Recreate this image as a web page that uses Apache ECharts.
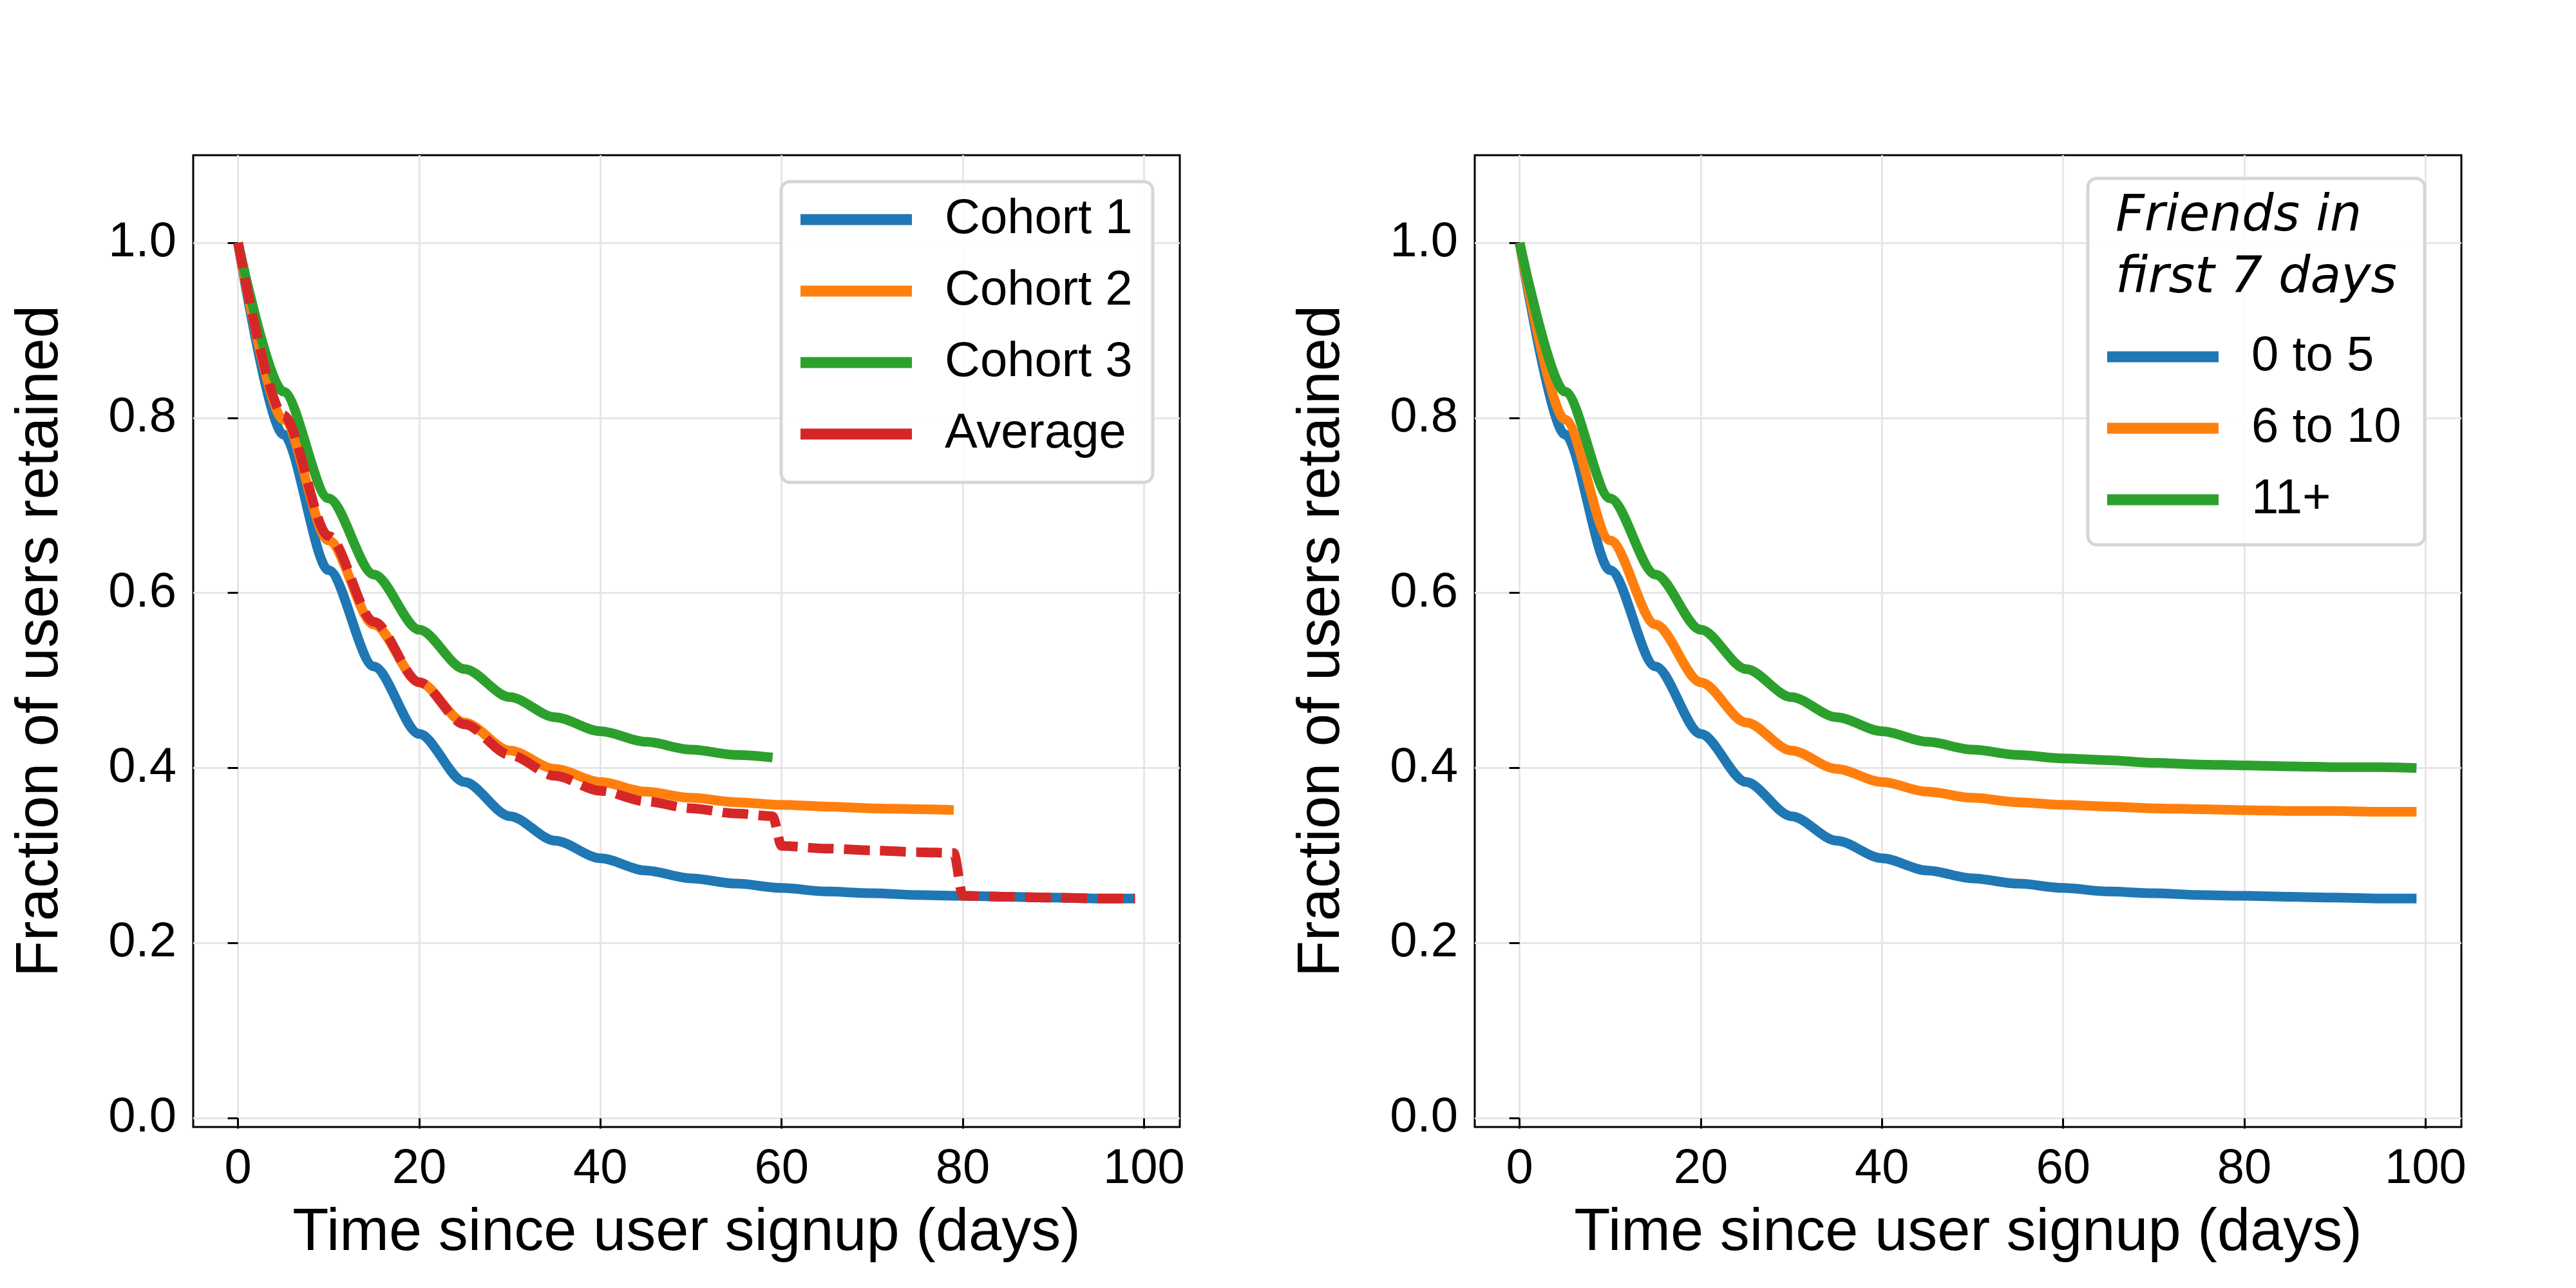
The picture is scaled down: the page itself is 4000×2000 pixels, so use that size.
<!DOCTYPE html>
<html><head><meta charset="utf-8">
<script src="https://cdn.jsdelivr.net/npm/echarts@6/dist/echarts.min.js"></script>
<style>html,body{margin:0;padding:0;background:#fff}#c{width:4000px;height:2000px}</style>
</head><body><div id="c"></div>
<script>
const xTicks = [0, 20, 40, 60, 80, 100];
const yTicks = [0, 0.2, 0.4, 0.6, 0.8, 1.0];
const daysFull = [0,5,10,15,20,25,30,35,40,45,50,55,60,65,70,75,80,85,90,95,99];
const days2 = [0,5,10,15,20,25,30,35,40,45,50,55,60,65,70,75,79];
const days3 = [0,5,10,15,20,25,30,35,40,45,50,55,59];
const daysAvg = [0,5,10,15,20,25,30,35,40,45,50,55,59,60,65,70,75,79,80,85,90,95,99];
const cohort1 = [1.0,0.781,0.626,0.516,0.439,0.384,0.345,0.317,0.297,0.283,0.274,0.268,0.263,0.259,0.257,0.255,0.254,0.253,0.252,0.251,0.251];
const cohort2 = [1.0,0.798,0.660,0.564,0.498,0.452,0.420,0.399,0.384,0.373,0.366,0.361,0.358,0.356,0.354,0.353,0.352];
const cohort3 = [1.0,0.830,0.708,0.621,0.558,0.513,0.481,0.458,0.442,0.430,0.421,0.415,0.412];
const average = [1.0,0.803,0.665,0.567,0.498,0.450,0.415,0.391,0.374,0.362,0.354,0.348,0.345,0.311,0.308,0.306,0.304,0.303,0.254,0.253,0.252,0.251,0.251];
const friends0to5 = [1.0,0.781,0.626,0.516,0.439,0.384,0.345,0.317,0.297,0.283,0.274,0.268,0.263,0.259,0.257,0.255,0.254,0.253,0.252,0.251,0.251];
const friends6to10 = [1.0,0.798,0.660,0.564,0.498,0.452,0.420,0.399,0.384,0.373,0.366,0.361,0.358,0.356,0.354,0.353,0.352,0.351,0.351,0.350,0.350];
const friends11 = [1.0,0.830,0.708,0.621,0.558,0.513,0.481,0.458,0.442,0.430,0.421,0.415,0.411,0.409,0.406,0.404,0.403,0.402,0.401,0.401,0.400];
const leftNames = ['Cohort 1','Cohort 2','Cohort 3','Average'];
const rightNames = ['0 to 5','6 to 10','11+'];
const legendTitle = ['Friends in','first 7 days'];

const C = ['#1f77b4','#ff7f0e','#2ca02c','#d62728'];
const FONT = 'Liberation Sans';
const zip = (xs, ys) => xs.map((x, i) => [x, ys[i]]);

function xAx(idx){
  return {type:'value', gridIndex:idx, min:-4.95, max:103.95,
    name:'Time since user signup (days)', nameLocation:'middle', nameGap:120,
    nameTextStyle:{fontFamily:FONT, fontSize:92, color:'#000'},
    axisLine:{show:false},
    axisTick:{show:true, length:16, lineStyle:{color:'#000', width:3}, customValues:xTicks},
    axisLabel:{fontFamily:FONT, fontSize:76, color:'#000', margin:28, customValues:xTicks},
    splitLine:{show:true, lineStyle:{color:'#e6e6e6', width:3}, customValues:xTicks}};
}
function yAx(idx){
  return {type:'value', gridIndex:idx, min:-0.01, max:1.1,
    name:'Fraction of users retained', nameLocation:'middle', nameGap:190,
    nameTextStyle:{fontFamily:FONT, fontSize:92, color:'#000'},
    axisLine:{show:false},
    axisTick:{show:true, length:16, lineStyle:{color:'#000', width:3}, customValues:yTicks},
    axisLabel:{fontFamily:FONT, fontSize:76, color:'#000', margin:26, customValues:yTicks,
      formatter:v=>v.toFixed(1)},
    splitLine:{show:true, lineStyle:{color:'#e6e6e6', width:3}, customValues:yTicks}};
}
function ln(name, data, color, xi, dashed){
  return {type:'line', name, data, xAxisIndex:xi, yAxisIndex:xi, showSymbol:false, symbol:'none',
    smooth:0.3, smoothMonotone:'x', z:dashed?3:2,
    lineStyle:{color, width:15, type: dashed?[40,16]:'solid'}, itemStyle:{color}};
}
function legendBox(x,y,w,h){
  return {type:'rect', z:3, shape:{x,y,width:w,height:h,r:14},
    style:{fill:'rgba(255,255,255,0.85)', stroke:'#d6d6d6', lineWidth:5}};
}
const legStyle = {orient:'vertical', itemWidth:173, itemHeight:17, itemGap:33, z:4,
  icon:'rect', selectedMode:false,
  textStyle:{fontFamily:FONT, fontSize:76, lineHeight:78, color:'#000', padding:[0,0,0,46]}};

const chart = echarts.init(document.getElementById('c'));
chart.setOption({
  animation:false, backgroundColor:'#fff',
  grid:[
    {left:300, top:241, width:1532, height:1509, show:true, borderColor:'#000', borderWidth:3, backgroundColor:'transparent'},
    {left:2290, top:241, width:1532, height:1509, show:true, borderColor:'#000', borderWidth:3, backgroundColor:'transparent'}
  ],
  xAxis:[xAx(0), xAx(1)],
  yAxis:[yAx(0), yAx(1)],
  legend:[
    Object.assign({data:leftNames.map((n,i)=>({name:n, itemStyle:{color:C[i]}})), left:1238, top:297}, legStyle),
    Object.assign({data:rightNames.map((n,i)=>({name:n, itemStyle:{color:C[i]}})), left:3267, top:510}, legStyle)
  ],
  graphic:[
    legendBox(1213,282,577,467),
    legendBox(3242,277,523,569),
    {type:'text', z:5, left:3285, top:290, style:{text:legendTitle.join('\n'), fontFamily:'DejaVu Sans', fontStyle:'italic', fontSize:78, lineHeight:96, fill:'#000'}}
  ],
  series:[
    ln(leftNames[0], zip(daysFull, cohort1), C[0], 0),
    ln(leftNames[1], zip(days2, cohort2), C[1], 0),
    ln(leftNames[2], zip(days3, cohort3), C[2], 0),
    ln(leftNames[3], zip(daysAvg, average), C[3], 0, true),
    ln(rightNames[0], zip(daysFull, friends0to5), C[0], 1),
    ln(rightNames[1], zip(daysFull, friends6to10), C[1], 1),
    ln(rightNames[2], zip(daysFull, friends11), C[2], 1)
  ]
});
</script></body></html>
